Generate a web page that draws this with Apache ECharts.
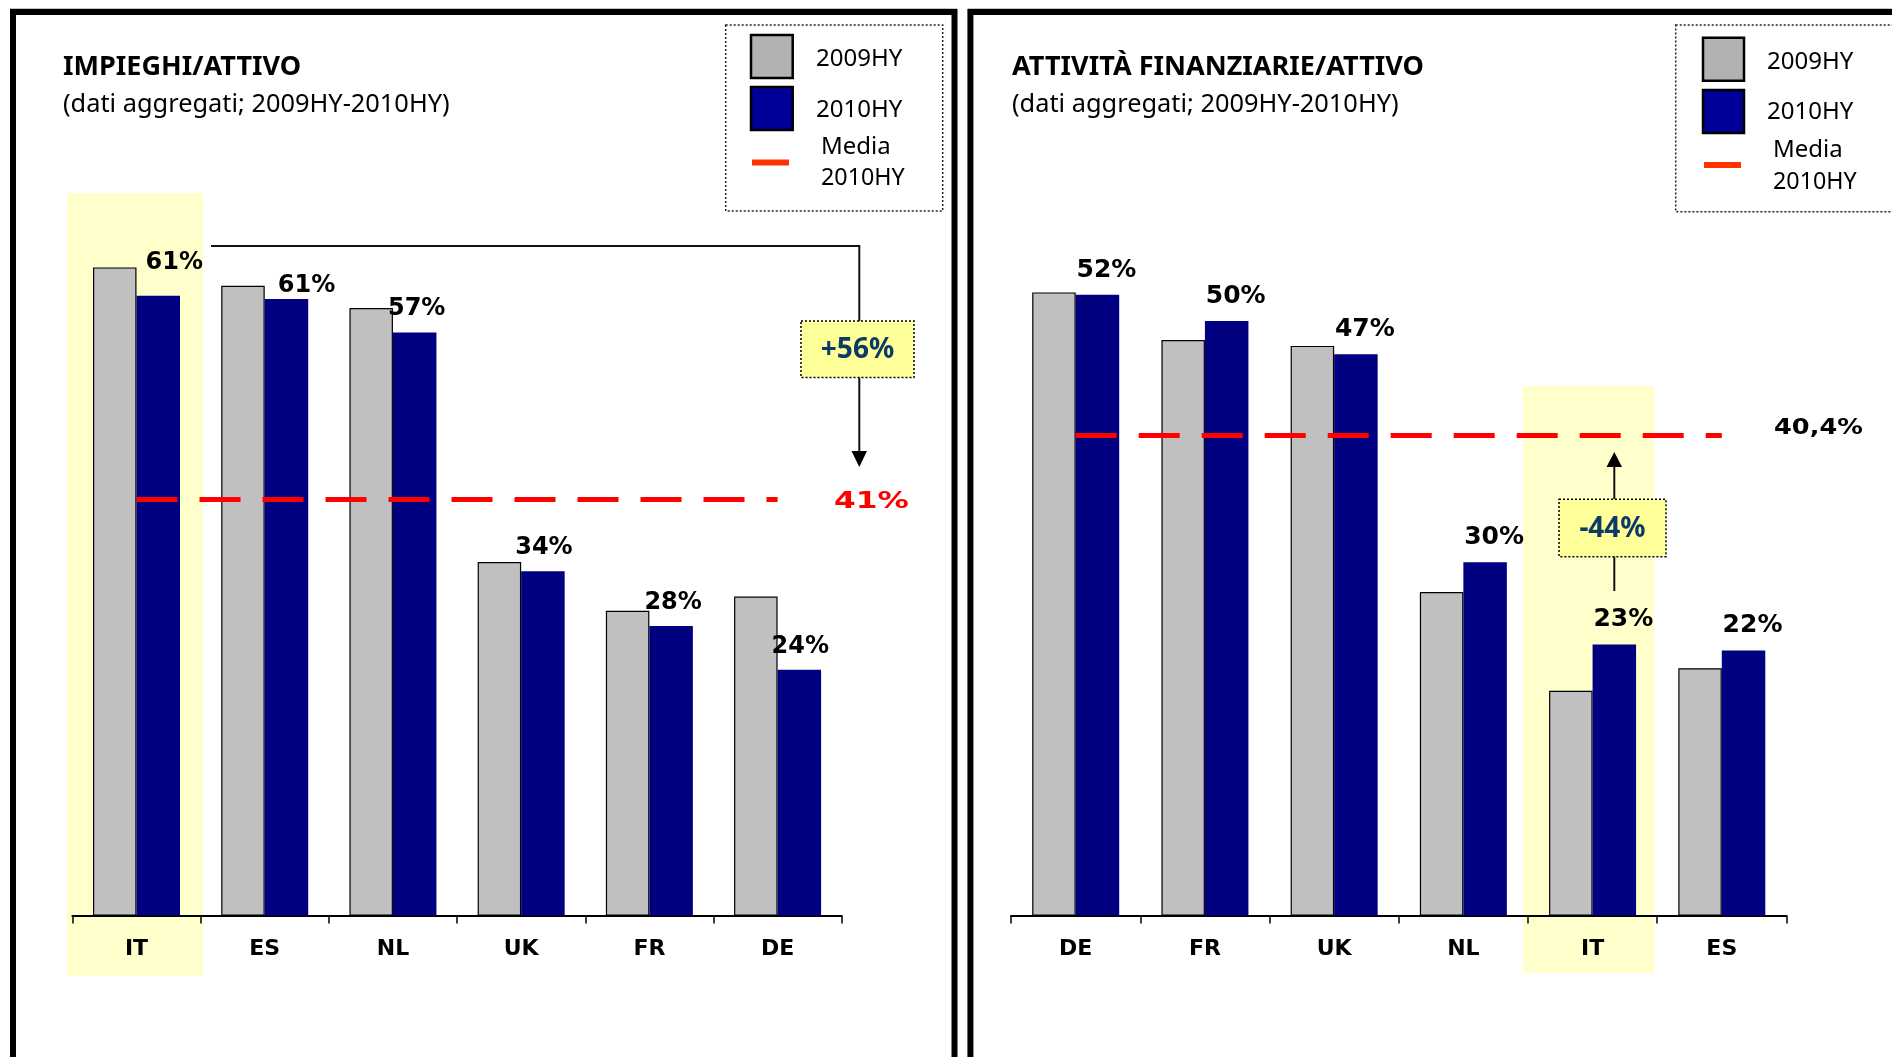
<!DOCTYPE html>
<html><head><meta charset="utf-8">
<script src="https://cdn.jsdelivr.net/npm/echarts@6/dist/echarts.min.js"></script>
<style>html,body{margin:0;padding:0;background:#fff;overflow:hidden}#c{width:1892px;height:1057px}</style>
</head><body><div id="c"></div>
<script>
// ---- data ----
const catsLoans = ['IT', 'ES', 'NL', 'UK', 'FR', 'DE'];
const loans2009 = [63.8, 62.0, 59.8, 34.8, 30.0, 31.4];
const loans2010 = [61.0, 60.7, 57.4, 33.9, 28.5, 24.2];
const loansLabels = ['61%', '61%', '57%', '34%', '28%', '24%'];
const loansMean = 41;
const loansMeanLabel = '41%';
const loansDelta = '+56%';

const catsFin = ['DE', 'FR', 'UK', 'NL', 'IT', 'ES'];
const fin2009 = [52.4, 48.4, 47.9, 27.2, 18.9, 20.8];
const fin2010 = [52.2, 50.0, 47.2, 29.7, 22.8, 22.3];
const finLabels = ['52%', '50%', '47%', '30%', '23%', '22%'];
const finMean = 40.4;
const finMeanLabel = '40,4%';
const finDelta = '-44%';

const seriesNames = ['2009HY', '2010HY'];
const meanLegend = ['Media', '2010HY'];
const titles = ['IMPIEGHI/ATTIVO', 'ATTIVITÀ FINANZIARIE/ATTIVO'];
const subtitle = '(dati aggregati; 2009HY-2010HY)';

// ---- styling / layout ----
const GRAY = '#C0C0C0', BLUE = '#000080', RED = '#FF0000';
const loansLabelOffsets = [[16, -10], [20, 10], [2, -1], [1, 0], [2, 0], [1, 0]];
const finLabelOffsets = [[9, -1], [9, -1], [9, -1], [9, -1], [9, -1], [9, -1]];

const chart = echarts.init(document.getElementById('c'), null, {renderer: 'canvas'});

function xAx(i, data) {
  return {
    type: 'category', gridIndex: i, data: data, boundaryGap: true,
    axisLine: {lineStyle: {color: '#000', width: 2}},
    axisTick: {show: true, length: 8, lineStyle: {color: '#000', width: 1.5}},
    axisLabel: {margin: 23, fontFamily: 'DejaVu Sans', fontWeight: 'bold', fontSize: 22, color: '#000'},
    splitLine: {show: false}
  };
}
function barPair(i, cats, d09, d10, labels, offs, fs, mean) {
  return [
    {
      name: seriesNames[0], type: 'bar', xAxisIndex: i, yAxisIndex: i, data: d09,
      barWidth: 43.5, barGap: '0%',
      itemStyle: {color: GRAY, borderColor: '#000', borderWidth: 1.2}
    },
    {
      name: seriesNames[1], type: 'bar', xAxisIndex: i, yAxisIndex: i,
      data: d10.map((v, k) => ({value: v, label: {offset: offs[k]}})),
      barWidth: 43.5, barGap: '0%',
      itemStyle: {color: BLUE},
      label: {
        show: true, position: 'top', distance: 11,
        formatter: p => labels[p.dataIndex],
        fontFamily: 'DejaVu Sans', fontWeight: 'bold', fontSize: fs, color: '#000'
      }
    },
    {
      // average line, drawn from the first to the last category centre
      name: meanLegend.join(' '), type: 'line', xAxisIndex: i, yAxisIndex: i, data: [],
      markLine: {
        silent: true, symbol: ['none', 'none'], animation: false,
        label: {show: false},
        lineStyle: {color: RED, width: 5, type: [41, 22], cap: 'butt'},
        data: [[{coord: [0, mean]}, {coord: [cats.length - 1, mean]}]]
      }
    }
  ];
}

function txt(x, y, text, font, opts) {
  opts = opts || {};
  return {
    type: 'text', x: x, y: y, z: 50, scaleX: opts.sx || 1, silent: true,
    style: {text: text, font: font, fill: opts.fill || '#000', align: opts.align || 'left',
      verticalAlign: 'middle', textAlign: opts.align || 'left', textVerticalAlign: 'middle'}
  };
}
function rect(x, y, w, h, style, z) {
  return {type: 'rect', shape: {x: x, y: y, width: w, height: h}, style: style, z: z == null ? 50 : z, silent: true};
}
function line(x1, y1, x2, y2, style) {
  return {type: 'line', shape: {x1: x1, y1: y1, x2: x2, y2: y2}, style: Object.assign({stroke: '#111', lineWidth: 2}, style || {}), z: 50, silent: true};
}
function poly(pts) {
  return {type: 'polygon', shape: {points: pts}, style: {fill: '#000'}, z: 50, silent: true};
}
const TITLE_FONT = 'bold 26px "Noto Sans"';
const SUB_FONT = '25px "Noto Sans"';
const LEG_FONT = '24px "Noto Sans"';
const BOX_FONT = 'bold 28px "Noto Sans"';

function legend(bx, by, bw, bh, sqx, sq1y, sq2y, sqw, sqh, lny, tx, t1y, t2y, mx, m1y, m2y) {
  return [
    rect(bx, by, bw, bh, {fill: 'none', stroke: '#222', lineWidth: 1.5, lineDash: [2, 2]}),
    rect(sqx, sq1y, sqw, sqh, {fill: '#B2B2B2', stroke: '#000', lineWidth: 2.5}),
    rect(sqx, sq2y, sqw, sqh, {fill: '#000099', stroke: '#000', lineWidth: 2.5}),
    rect(sqx + 1, lny - 3, 37, 6, {fill: '#FF3300'}),
    txt(tx, t1y, seriesNames[0], LEG_FONT),
    txt(tx, t2y, seriesNames[1], LEG_FONT),
    txt(mx, m1y, meanLegend[0], LEG_FONT),
    txt(mx, m2y, meanLegend[1], LEG_FONT, {sx: 0.97})
  ];
}

const graphics = [].concat(
  // frames
  [line(10, 8.5, 957, 8.5, {stroke: '#c4c4c4', lineWidth: 1}),
   line(968, 8.5, 1892, 8.5, {stroke: '#c4c4c4', lineWidth: 1}),
   rect(13, 12, 941.5, 1200, {fill: 'none', stroke: '#000', lineWidth: 6}),
   rect(970.4, 12, 1000, 1200, {fill: 'none', stroke: '#000', lineWidth: 6})],
  // highlights
  [rect(67, 193, 136, 783, {fill: '#FFFFCC'}, -10),
   rect(1523, 386, 131, 587, {fill: '#FFFFCC'}, -10)],
  // titles
  [txt(63, 68, titles[0], TITLE_FONT, {sx: 1.04}),
   txt(63, 105, subtitle, SUB_FONT, {sx: 1.015}),
   txt(1012, 68, titles[1], TITLE_FONT, {sx: 1.04}),
   txt(1012, 105, subtitle, SUB_FONT, {sx: 1.015})],
  legend(725.7, 25, 217, 186, 751, 35, 87, 41.7, 43, 162.5, 816, 59, 110, 821, 146.7, 178),
  legend(1675.7, 25, 230, 186.7, 1703, 37.7, 90, 41, 43, 165, 1767, 61.7, 111.7, 1773, 150, 181.7),
  // left annotation
  [line(211, 246, 859.3, 246),
   line(859.3, 245, 859.3, 321),
   rect(801, 321, 113, 56.5, {fill: '#FFFF99', stroke: '#000', lineWidth: 1.5, lineDash: [2, 2]}),
   txt(857.5, 350, loansDelta, BOX_FONT, {fill: '#0B3A66', align: 'center'}),
   line(859.3, 377.5, 859.3, 453),
   poly([[851.5, 451], [867, 451], [859.3, 467]])],
  // right annotation
  [poly([[1606.5, 467], [1622, 467], [1614.3, 452]]),
   line(1614.3, 466, 1614.3, 499.3),
   rect(1559, 499.3, 107, 57.4, {fill: '#FFFF99', stroke: '#000', lineWidth: 1.5, lineDash: [2, 2]}),
   txt(1612.5, 529, finDelta, BOX_FONT, {fill: '#0B3A66', align: 'center'}),
   line(1614.3, 556.7, 1614.3, 591)],
  // mean labels
  [txt(834, 502, loansMeanLabel, 'bold 23px "DejaVu Sans"', {fill: RED, sx: 1.36}),
   txt(1774, 428.5, finMeanLabel, 'bold 21px "DejaVu Sans"', {sx: 1.22})]
);

chart.setOption({
  animation: false,
  backgroundColor: '#fff',
  grid: [
    {left: 72.4, top: 204.4, width: 769.3, height: 711.2},
    {left: 1011.1, top: 202, width: 775.3, height: 713.6}
  ],
  xAxis: [xAx(0, catsLoans), xAx(1, catsFin)],
  yAxis: [
    {type: 'value', gridIndex: 0, min: 0, max: 70, show: false},
    {type: 'value', gridIndex: 1, min: 0, max: 60, show: false}
  ],
  series: [].concat(
    barPair(0, catsLoans, loans2009, loans2010, loansLabels, loansLabelOffsets, 24, loansMean),
    barPair(1, catsFin, fin2009, fin2010, finLabels, finLabelOffsets, 25, finMean)
  ),
  graphic: {elements: graphics}
});
</script>
</body></html>
